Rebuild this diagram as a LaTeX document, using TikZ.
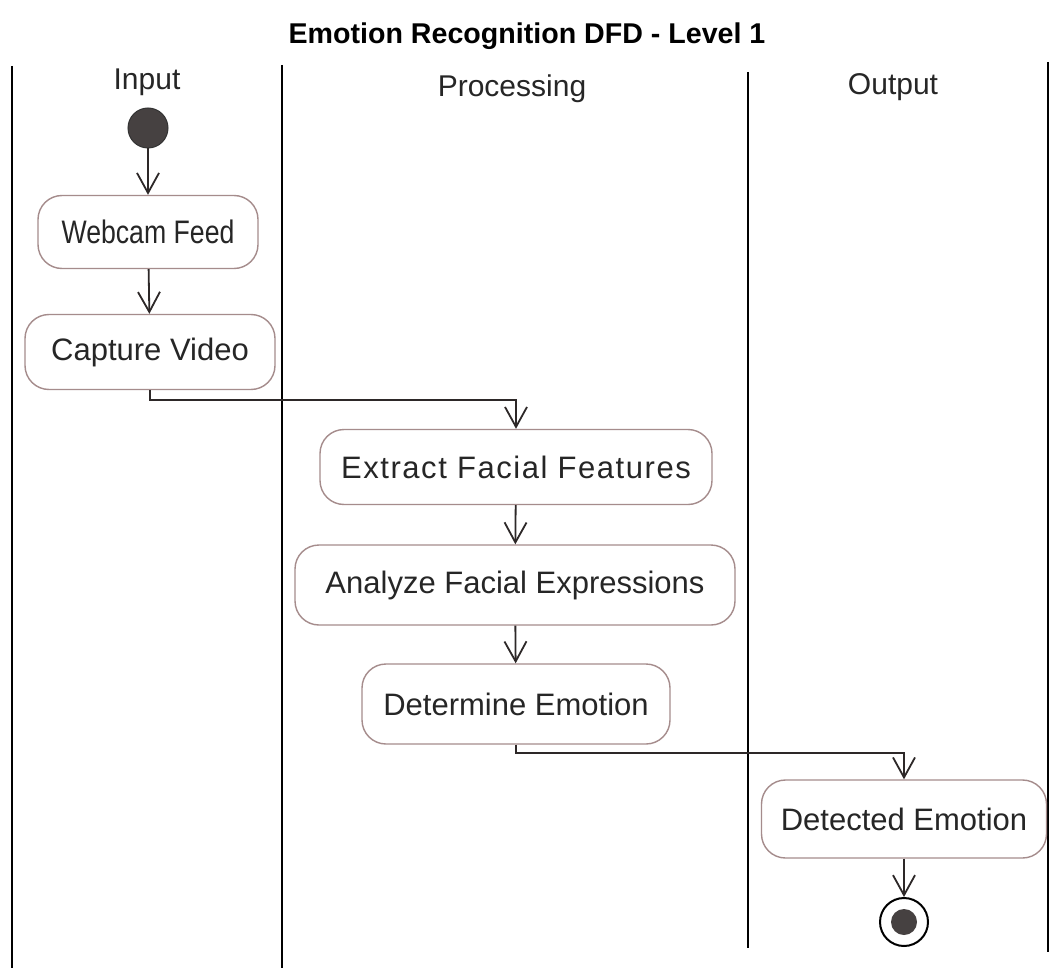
\documentclass[tikz,border=0pt]{standalone}
\usepackage{fontspec}
\setmainfont{Liberation Sans}
\usetikzlibrary{arrows.meta}
\definecolor{boxline}{RGB}{165,140,140}
\definecolor{flow}{RGB}{45,40,40}
\definecolor{dot}{RGB}{70,65,65}
\tikzset{
  act/.style={draw=boxline, line width=1.4pt, rounded corners=24pt, fill=white,
    font=\fontsize{31}{36}\selectfont, inner sep=0pt, text=black!85},
  arr/.style={draw=flow, line width=1.8pt, -{Straight Barb[length=20pt,width=22pt,line width=1.8pt]}},
  lane/.style={line width=2.8pt, black},
  lanelabel/.style={font=\fontsize{30}{34}\selectfont, text=black!85},
}
\begin{document}
\begin{tikzpicture}[x=1pt,y=-1pt]
\useasboundingbox (0,0) rectangle (1051,968);
\fill[white] (0,0) rectangle (1051,968);
% title
\node[font=\bfseries\fontsize{28.6}{32}\selectfont] (title) at (527,36) {Emotion Recognition DFD - Level 1};
% lanes
\draw[lane] (12,66) -- (12,968);
\draw[lane] (282,65) -- (282,968);
\draw[lane] (748,72) -- (748,948);
\draw[lane] (1048,62) -- (1048,952);
\node[lanelabel] (linput) at (147,82) {Input};
\node[lanelabel] (lproc) at (512,89) {Processing};
\node[lanelabel] (lout) at (893,87) {Output};
% nodes
\node[circle, fill=dot, draw=black!80, line width=1pt, minimum size=40pt, inner sep=0pt] (start) at (148,128) {};
\node[act, minimum width=220pt, minimum height=73pt] (webcam) at (148,232) {\scalebox{0.86}[1.05]{Webcam Feed}};
\node[act, minimum width=250pt, minimum height=75pt] (capture) at (150,352) {Capture Video};
\node[act, minimum width=392pt, minimum height=75pt] (extract) at (516,467) {\addfontfeature{LetterSpace=5}Extract Facial Features};
\node[act, minimum width=440pt, minimum height=80pt] (analyze) at (515,585) {Analyze Facial Expressions};
\node[act, minimum width=308pt, minimum height=80pt] (determine) at (516,704) {Determine Emotion};
\node[act, minimum width=285pt, minimum height=78pt] (detected) at (904,819) {Detected Emotion};
\node[circle, draw=black, line width=2pt, minimum size=48pt, inner sep=0pt] (end) at (904,922) {};
\node[circle, fill=dot, minimum size=26pt, inner sep=0pt] (endin) at (end.center) {};
% flows
\draw[arr] (start) -- (webcam);
\draw[arr] (webcam) -- (capture);
\draw[arr] (capture.south) -- ++(0,10) -| (extract.north);
\draw[arr] (extract) -- (analyze);
\draw[arr] (analyze) -- (determine);
\draw[arr] (determine.south) -- ++(0,8) -| (detected.north);
\draw[arr] (detected.south) -- (end.north);
\end{tikzpicture}
\end{document}
